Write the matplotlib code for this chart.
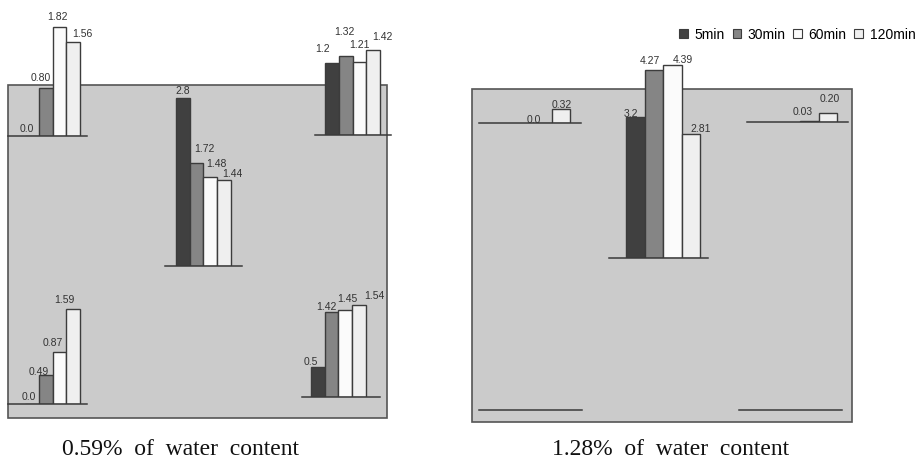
import matplotlib
matplotlib.use("Agg")
import matplotlib.pyplot as plt
from matplotlib.patches import Rectangle, Patch
import numpy as np

# Series names (legend)
series = ["5min", "30min", "60min", "120min"]

# 0.59% of water content: five measuring points
left_values = [
	[0.0, 0.80, 1.82, 1.56],
	[2.8, 1.72, 1.48, 1.44],
	[1.2, 1.32, 1.21, 1.42],
	[0.0, 0.49, 0.87, 1.59],
	[0.5, 1.42, 1.45, 1.54],
]
left_labels = [
	["0.0", "0.80", "1.82", "1.56"],
	["2.8", "1.72", "1.48", "1.44"],
	["1.2", "1.32", "1.21", "1.42"],
	["0.0", "0.49", "0.87", "1.59"],
	["0.5", "1.42", "1.45", "1.54"],
]

# 1.28% of water content: five measuring points (nan = no bar)
nan = np.nan
right_values = [
	[nan, nan, 0.0, 0.32],
	[3.2, 4.27, 4.39, 2.81],
	[nan, nan, 0.03, 0.20],
	[nan, nan, nan, nan],
	[nan, nan, nan, nan],
]
right_labels = [
	["", "", "0.0", "0.32"],
	["3.2", "4.27", "4.39", "2.81"],
	["", "", "0.03", "0.20"],
	["", "", "", ""],
	["", "", "", ""],
]

captions = ["0.59%  of  water  content", "1.28%  of  water  content"]

# Styles
bar_colors = ["#404040", "#858585", "#fbfbfb", "#efefef"]
edge_color = "#3c3c3c"
panel_color = "#cbcbcb"
label_color = "#333333"

W, H = 920, 464

# Panel frames (pixel layout): x0, y0, x1, y1
panels = [(8, 86, 387, 419), (472, 90, 852, 423)]
caption_pos = [(181, 450), (671, 450)]

# Cluster layout in pixels: baseline y, line x0, line x1, first bar left
left_layout = [
	(137, 8, 87, 25),
	(267, 165, 242, 176),
	(136, 315, 391, 325),
	(405, 8, 87, 25),
	(398, 302, 380, 311),
]
right_layout = [
	(124, 479, 581, 496),
	(259, 609, 708, 626),
	(123, 747, 848, 763),
	(411, 479, 582, 496),
	(411, 739, 842, 756),
]

# Value label nudges in pixels: (dx from bar centre, gap above bar top)
left_label_offsets = [
	[(-5.5, 5), (-4.5, 8), (-2, 8), (9, 6)],
	[(0, 5), (7.5, 12), (6.5, 11), (8, 4)],
	[(-9, 12), (-1, 22), (0, 15), (9, 11)],
	[(-3, 5), (-7, 1), (-6.5, 7), (-8.5, 7)],
	[(-7, 3), (-5, 3), (1.5, 9), (15.5, 7)],
]
right_label_offsets = [
	[(0, 0), (0, 0), (-8.5, 1), (1, 2)],
	[(-4.5, 1), (-4.5, 7), (10, 3), (9.5, 3)],
	[(0, 0), (0, 0), (-6.5, 7), (1.5, 12)],
	[(0, 0)] * 4,
	[(0, 0)] * 4,
]


def draw_cluster(fig, layout, values, labels, offsets, scale, bar_w):
	base, x0, x1, bar_left = layout
	top = 5
	ax = fig.add_axes([x0 / W, 1 - base / H, (x1 - x0) / W, (base - top) / H])
	ax.set_xlim(x0, x1)
	ax.set_ylim(0, (base - top) / scale)
	ax.axis("off")
	ax.patch.set_alpha(0)
	for i, (v, lab, (dx, gap)) in enumerate(zip(values, labels, offsets)):
		if np.isnan(v):
			continue
		x = bar_left + i * bar_w
		ax.bar(x, v, width=bar_w, align="edge", color=bar_colors[i],
			edgecolor=edge_color, linewidth=1.0, zorder=2)
		ax.annotate(lab, (x + bar_w / 2, v), xytext=(dx, gap), textcoords="offset pixels",
			ha="center", va="baseline", fontsize=7.5, family="Liberation Sans",
			color=label_color, zorder=4)
	ax.plot([x0, x1], [0, 0], color="#3a3a3a", linewidth=1.1, clip_on=False, zorder=3)


def main():
	fig = plt.figure(figsize=(9.2, 4.64), dpi=100)
	bg = fig.add_axes([0, 0, 1, 1])
	bg.set_xlim(0, W)
	bg.set_ylim(H, 0)
	bg.axis("off")

	# Gray panels
	for (px0, py0, px1, py1) in panels:
		bg.add_patch(Rectangle((px0, py0), px1 - px0, py1 - py0,
			facecolor=panel_color, edgecolor="#555555", linewidth=1.2))

	# Captions
	for (cx, cy), text in zip(caption_pos, captions):
		bg.text(cx, cy, text, ha="center", va="center", fontsize=17,
			family="Liberation Serif", color="#111111")

	# Bar clusters
	for layout, vals, labs, offs in zip(left_layout, left_values, left_labels, left_label_offsets):
		draw_cluster(fig, layout, vals, labs, offs, scale=60, bar_w=13.75)
	for layout, vals, labs, offs in zip(right_layout, right_values, right_labels, right_label_offsets):
		draw_cluster(fig, layout, vals, labs, offs, scale=44, bar_w=18.6)

	# Legend
	handles = [Patch(facecolor=c, edgecolor=edge_color, linewidth=0.8) for c in bar_colors]
	fig.legend(handles, series, loc="center right", bbox_to_anchor=(0.995, 1 - 35 / H),
		ncol=4, frameon=False, prop={"family": "Liberation Sans", "size": 10},
		handlelength=0.6, handleheight=0.6, handletextpad=0.5, columnspacing=0.55,
		borderaxespad=0.0, borderpad=0.0)

	fig.savefig("out.png", dpi=100)


if __name__ == "__main__":
	main()
